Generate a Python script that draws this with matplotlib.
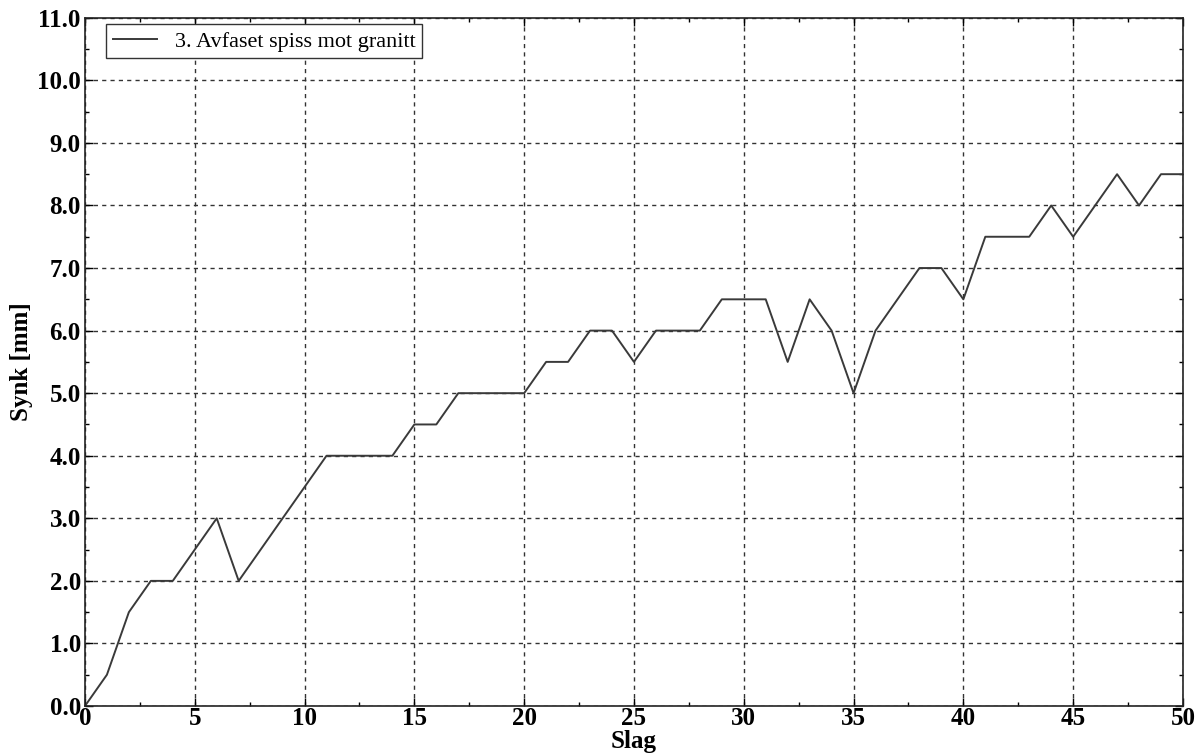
import numpy as np
import matplotlib.pyplot as plt
from matplotlib.ticker import MultipleLocator, FormatStrFormatter

# Synk per slag
slag = list(range(51))
synk = [0.0, 0.5, 1.5, 2.0, 2.0, 2.5, 3.0, 2.0, 2.5, 3.0,
        3.5, 4.0, 4.0, 4.0, 4.0, 4.5, 4.5, 5.0, 5.0, 5.0,
        5.0, 5.5, 5.5, 6.0, 6.0, 5.5, 6.0, 6.0, 6.0, 6.5,
        6.5, 6.5, 5.5, 6.5, 6.0, 5.0, 6.0, 6.5, 7.0, 7.0,
        6.5, 7.5, 7.5, 7.5, 8.0, 7.5, 8.0, 8.5, 8.0, 8.5,
        8.5]
label = "3. Avfaset spiss mot granitt"

plt.rcParams["font.family"] = ["Liberation Serif", "DejaVu Serif"]

fig = plt.figure(figsize=(12, 7.53), dpi=100)
ax = fig.add_axes([0.0708, 0.0624, 0.915, 0.914])

ax.plot(slag, synk, color="#3a3a3a", lw=1.4, label=label)

ax.set_xlim(0, 50)
ax.set_ylim(0, 11)
ax.xaxis.set_major_locator(MultipleLocator(5))
ax.xaxis.set_minor_locator(MultipleLocator(2.5))
ax.yaxis.set_major_locator(MultipleLocator(1))
ax.yaxis.set_minor_locator(MultipleLocator(0.5))
ax.yaxis.set_major_formatter(FormatStrFormatter("%.1f"))

ax.tick_params(which="both", direction="in", top=True, right=True)
ax.tick_params(which="major", length=6, width=1, labelsize=18)
ax.tick_params(axis="x", which="major", pad=1)
ax.tick_params(axis="y", which="major", pad=3)
ax.tick_params(which="minor", length=3, width=1)
for t in ax.get_xticklabels() + ax.get_yticklabels():
    t.set_fontweight("bold")

ax.grid(True, which="major", ls=(0, (3, 3)), color="#333333", lw=1)
for s in ax.spines.values():
    s.set_color("#222222")
    s.set_linewidth(1.2)

ax.set_xlabel("Slag", fontsize=18, fontweight="bold", labelpad=0)
ax.set_ylabel("Synk [mm]", fontsize=18, fontweight="bold", labelpad=3)

leg = ax.legend(loc="upper left", fontsize=16, fancybox=False, framealpha=1,
                edgecolor="#333333", handlelength=2.0, handletextpad=0.8,
                borderpad=0.3, borderaxespad=0.3,
                bbox_to_anchor=(0.013, 1.0))
leg.get_frame().set_linewidth(1)

fig.savefig("out.png", dpi=100)
